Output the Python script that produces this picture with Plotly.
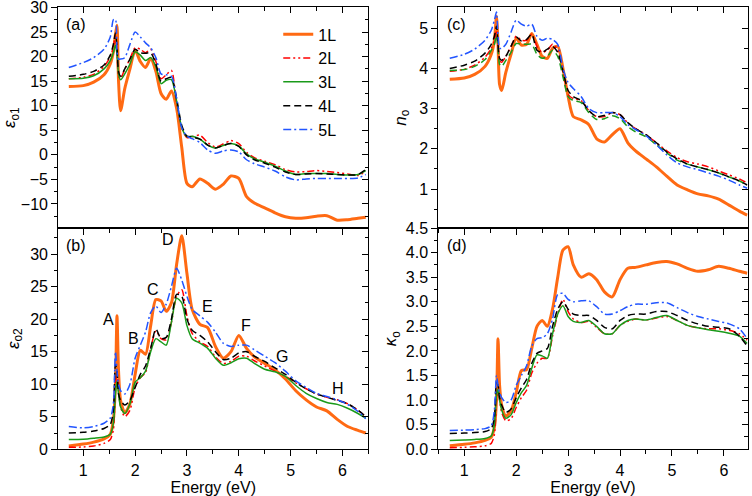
import plotly.graph_objects as go

# common energy grid (eV)
energy = [0.72, 1.0, 1.2, 1.4, 1.52, 1.58, 1.62, 1.65, 1.68, 1.72, 1.8, 1.9, 2.0, 2.1, 2.2,
          2.3, 2.4, 2.5, 2.6, 2.7, 2.8, 2.9, 3.0, 3.1, 3.25, 3.4, 3.55, 3.7, 3.85, 4.0, 4.15,
          4.3, 4.5, 4.7, 4.9, 5.1, 5.3, 5.5, 5.7, 5.9, 6.1, 6.3, 6.45]

layers = ['1L', '2L', '3L', '4L', '5L']

# (a) eps_o1
eps1_1L = [13.9, 14.1, 14.8, 16.3, 18.5, 21.0, 24.5, 26.4, 15.0, 9.0, 13.5, 17.5, 21.3, 19.0, 17.8,
           19.6, 17.0, 12.5, 11.3, 13.0, 9.5, 1.5, -5.8, -6.5, -4.9, -5.8, -7.0, -6.0, -4.3, -4.8, -8.5,
           -9.8, -10.8, -11.8, -12.6, -12.9, -12.8, -12.5, -12.4, -13.3, -13.2, -12.9, -12.7]
eps1_2L = [15.5, 15.8, 16.4, 18.0, 20.0, 22.0, 24.5, 21.0, 16.0, 15.5, 17.5, 19.5, 21.8, 21.5, 20.8,
           21.5, 19.0, 15.5, 16.3, 17.2, 10.5, 5.5, 3.5, 3.7, 4.0, 2.5, 1.6, 2.2, 2.9, 2.3, 0.5,
           -0.6, -1.3, -2.0, -3.0, -3.5, -3.4, -3.2, -3.4, -3.6, -3.9, -4.2, -3.4]
eps1_3L = [15.5, 15.6, 16.1, 17.5, 19.2, 20.8, 22.3, 20.5, 16.5, 15.3, 16.5, 18.5, 21.0, 20.3, 19.2,
           19.8, 18.0, 14.5, 15.2, 15.3, 11.0, 5.5, 3.7, 3.8, 3.2, 2.0, 1.4, 1.9, 2.3, 1.8, 0.2,
           -0.8, -1.5, -2.3, -3.3, -4.0, -3.8, -3.8, -3.8, -4.0, -4.1, -4.0, -3.2]
eps1_4L = [16.0, 16.4, 17.0, 18.3, 20.3, 22.5, 24.8, 22.0, 17.0, 16.0, 17.5, 19.5, 21.5, 20.8, 20.7,
           20.8, 18.5, 15.0, 15.5, 15.8, 11.5, 6.0, 3.8, 3.6, 3.2, 2.0, 1.4, 1.9, 2.3, 1.7, 0.0,
           -1.0, -1.7, -2.5, -3.5, -4.0, -3.9, -3.8, -3.9, -4.0, -4.1, -4.0, -3.0]
eps1_5L = [17.8, 18.8, 19.8, 21.5, 24.0, 27.5, 27.6, 21.0, 19.5, 19.5, 19.8, 22.5, 25.0, 24.0, 22.8,
           21.8, 19.8, 16.5, 16.3, 16.0, 11.5, 5.5, 3.8, 3.3, 2.5, 1.0, 0.3, 0.8, 1.0, 0.6, -1.0,
           -1.8, -2.5, -3.3, -4.5, -5.1, -4.9, -4.8, -4.8, -4.8, -4.8, -4.7, -4.0]

# (b) eps_o2
eps2_1L = [0.5, 0.8, 1.1, 1.6, 2.3, 4.5, 10.0, 20.5, 12.0, 7.5, 5.6, 7.0, 11.5, 15.2, 14.6,
           19.0, 23.0, 22.8, 21.2, 22.5, 28.4, 32.8, 27.0, 21.5, 19.2, 18.7, 15.8, 14.0, 15.0, 17.5, 15.5,
           14.2, 13.2, 12.2, 10.8, 9.0, 7.6, 6.5, 5.9, 4.6, 3.5, 2.9, 2.5]
eps2_2L = [0.3, 0.35, 0.5, 0.9, 1.5, 3.0, 10.0, 12.0, 9.0, 6.5, 5.0, 6.0, 9.5, 11.0, 11.8,
           15.5, 18.2, 17.0, 16.8, 19.5, 23.5, 24.5, 20.5, 17.8, 16.5, 15.8, 14.2, 13.2, 13.5, 14.3, 14.3,
           13.6, 12.8, 12.0, 11.2, 10.2, 9.3, 8.5, 8.0, 7.6, 7.0, 6.0, 5.0]
eps2_3L = [1.5, 1.55, 1.7, 1.9, 2.3, 4.0, 8.5, 10.5, 8.5, 6.5, 5.5, 7.0, 10.3, 11.0, 12.0,
           15.0, 17.0, 16.5, 16.0, 19.5, 23.2, 22.5, 19.0, 17.0, 16.3, 15.5, 14.0, 12.9, 13.3, 13.9, 14.0,
           13.2, 12.3, 11.9, 11.2, 9.8, 8.6, 7.8, 7.2, 6.9, 6.3, 5.5, 4.8]
eps2_4L = [2.5, 2.6, 2.8, 3.2, 3.8, 6.0, 13.0, 12.0, 8.5, 7.5, 6.8, 7.5, 9.5, 11.5, 12.8,
           15.5, 18.5, 17.0, 17.2, 20.0, 23.8, 23.5, 20.0, 18.3, 17.5, 16.5, 15.0, 13.8, 14.0, 14.8, 15.0,
           14.3, 13.5, 12.5, 11.5, 10.3, 9.3, 8.5, 8.0, 7.5, 7.0, 6.0, 5.0]
eps2_5L = [3.5, 3.3, 3.5, 4.0, 4.8, 7.0, 15.0, 12.0, 10.0, 9.0, 8.5, 10.0, 14.0, 16.0, 18.0,
           21.0, 22.0, 21.0, 22.3, 25.0, 27.8, 26.0, 23.5, 21.5, 20.5, 19.5, 18.0, 16.3, 15.8, 16.0, 16.0,
           15.3, 14.3, 13.3, 12.0, 10.5, 9.5, 8.6, 8.1, 7.6, 6.9, 5.8, 4.7]

# (c) n_o
n_1L = [3.73, 3.76, 3.85, 4.05, 4.35, 4.7, 5.3, 4.6, 3.6, 3.45, 3.9, 4.35, 4.75, 4.58, 4.6,
        4.87, 4.6, 4.3, 4.25, 4.5, 4.55, 4.0, 3.3, 2.8, 2.72, 2.6, 2.25, 2.17, 2.35, 2.5, 2.15,
        1.95, 1.75, 1.55, 1.32, 1.1, 0.98, 0.88, 0.83, 0.75, 0.6, 0.45, 0.35]
n_2L = [3.93, 3.98, 4.08, 4.28, 4.5, 4.7, 4.95, 4.6, 4.2, 4.15, 4.3, 4.55, 4.8, 4.7, 4.7,
        4.85, 4.55, 4.4, 4.45, 4.6, 4.45, 3.9, 3.35, 3.25, 3.2, 2.95, 2.8, 2.8, 2.9, 2.85, 2.65,
        2.5, 2.35, 2.15, 1.95, 1.78, 1.68, 1.62, 1.55, 1.45, 1.35, 1.25, 1.15]
n_3L = [3.95, 3.97, 4.05, 4.22, 4.45, 4.6, 4.82, 4.5, 4.1, 4.05, 4.2, 4.4, 4.62, 4.6, 4.6,
        4.6, 4.35, 4.25, 4.3, 4.45, 4.3, 3.8, 3.3, 3.2, 3.15, 2.9, 2.73, 2.75, 2.82, 2.75, 2.55,
        2.42, 2.3, 2.1, 1.9, 1.72, 1.62, 1.55, 1.48, 1.4, 1.3, 1.2, 1.1]
n_4L = [4.0, 4.08, 4.18, 4.38, 4.6, 4.8, 5.05, 4.6, 4.25, 4.2, 4.3, 4.55, 4.78, 4.68, 4.72,
        4.85, 4.45, 4.4, 4.48, 4.55, 4.4, 3.95, 3.45, 3.3, 3.2, 2.95, 2.8, 2.83, 2.9, 2.85, 2.65,
        2.5, 2.35, 2.15, 1.92, 1.75, 1.62, 1.55, 1.48, 1.4, 1.3, 1.2, 1.1]
n_5L = [4.25, 4.35, 4.48, 4.7, 4.95, 5.2, 5.4, 4.8, 4.5, 4.5, 4.6, 4.9, 5.2, 5.1, 5.05,
        5.1, 4.8, 4.7, 4.75, 4.72, 4.6, 4.0, 3.65, 3.5, 3.3, 3.0, 2.9, 2.9, 2.9, 2.8, 2.6,
        2.48, 2.33, 2.1, 1.85, 1.65, 1.55, 1.48, 1.4, 1.32, 1.22, 1.1, 1.02]

# (d) kappa_o
k_1L = [0.07, 0.1, 0.13, 0.18, 0.25, 0.45, 1.0, 2.25, 1.3, 0.9, 0.68, 0.78, 1.15, 1.6, 1.62,
        2.05, 2.5, 2.62, 2.5, 2.85, 3.5, 4.05, 4.12, 3.75, 3.5, 3.57, 3.45, 3.2, 3.1, 3.45, 3.68,
        3.7, 3.75, 3.8, 3.82, 3.77, 3.68, 3.62, 3.65, 3.72, 3.68, 3.62, 3.58]
k_2L = [0.03, 0.04, 0.05, 0.07, 0.12, 0.3, 1.0, 1.2, 1.0, 0.75, 0.58, 0.62, 0.85, 1.05, 1.2,
        1.55, 1.75, 1.85, 1.85, 2.3, 2.75, 3.05, 2.8, 2.65, 2.58, 2.6, 2.48, 2.35, 2.35, 2.52, 2.6,
        2.65, 2.63, 2.67, 2.7, 2.62, 2.52, 2.47, 2.45, 2.45, 2.42, 2.35, 2.22]
k_3L = [0.18, 0.19, 0.2, 0.22, 0.27, 0.5, 1.1, 1.22, 1.0, 0.8, 0.63, 0.7, 0.95, 1.15, 1.3,
        1.65, 1.92, 1.9, 1.85, 2.35, 2.75, 2.92, 2.7, 2.6, 2.58, 2.62, 2.5, 2.35, 2.35, 2.52, 2.62,
        2.65, 2.63, 2.68, 2.72, 2.62, 2.52, 2.47, 2.43, 2.4, 2.36, 2.3, 2.15]
k_4L = [0.32, 0.33, 0.34, 0.36, 0.42, 0.65, 1.35, 1.3, 1.05, 0.9, 0.75, 0.82, 1.05, 1.25, 1.42,
        1.75, 1.95, 2.0, 2.05, 2.5, 2.85, 3.0, 2.85, 2.75, 2.72, 2.72, 2.62, 2.48, 2.45, 2.62, 2.72,
        2.75, 2.75, 2.8, 2.8, 2.72, 2.62, 2.55, 2.5, 2.48, 2.45, 2.3, 2.1]
k_5L = [0.38, 0.39, 0.4, 0.42, 0.48, 0.8, 1.5, 1.3, 1.15, 1.05, 0.95, 1.0, 1.3, 1.5, 1.7,
        2.1, 2.25, 2.27, 2.35, 2.65, 3.15, 3.17, 3.05, 3.0, 3.02, 3.02, 2.9, 2.75, 2.75, 2.82, 2.9,
        2.95, 2.95, 2.98, 2.98, 2.88, 2.78, 2.7, 2.65, 2.6, 2.55, 2.45, 2.25]

peak_labels = ['A', 'B', 'C', 'D', 'E', 'F', 'G', 'H']
peak_x = [1.48, 1.96, 2.35, 2.64, 3.39, 4.14, 4.84, 5.92]
peak_y = [20.0, 17.0, 24.5, 32.2, 21.9, 19.0, 14.2, 9.4]

colors = ['#FF6A13', '#FF0000', '#1A9A1A', '#000000', '#2255FF']
widths = [3, 1.5, 1.5, 1.5, 1.5]
dashes = ['solid', '7px,3px,2px,3px,2px,3px', 'solid', '7px,4px', '8px,3px,2px,3px']

FONT = 'Liberation Sans, Arial, sans-serif'

panels = [
    ('x', 'y', [eps1_1L, eps1_2L, eps1_3L, eps1_4L, eps1_5L]),
    ('x2', 'y2', [eps2_1L, eps2_2L, eps2_3L, eps2_4L, eps2_5L]),
    ('x3', 'y3', [n_1L, n_2L, n_3L, n_4L, n_5L]),
    ('x4', 'y4', [k_1L, k_2L, k_3L, k_4L, k_5L]),
]

fig = go.Figure()
for p, (xa, ya, series) in enumerate(panels):
    for i, name in enumerate(layers):
        dash = dashes[i]
        if p == 2 and i == 2:
            dash = '7px,4px'  # green is dashed in (c)
        fig.add_trace(go.Scatter(
            x=energy, y=series[i], name=name, mode='lines',
            xaxis=xa, yaxis=ya, showlegend=(p == 0),
            line=dict(color=colors[i], width=widths[i], dash=dash, shape='spline', smoothing=0.7),
        ))

# dummy traces so the mirror (inside-tick) axes are drawn
for xa, ya in [('x5', 'y'), ('x6', 'y2'), ('x7', 'y3'), ('x8', 'y4'),
               ('x', 'y5'), ('x2', 'y6'), ('x3', 'y7'), ('x4', 'y8')]:
    fig.add_trace(go.Scatter(x=[None], y=[None], xaxis=xa, yaxis=ya, showlegend=False, hoverinfo='skip'))

XL = [0.0775, 0.4898]
XR = [0.5829, 0.9943]
Y_TOP = [0.5403, 0.9853]
Y_BOT = [0.0942, 0.5403]
xr_left = [0.517, 6.5]
xr_right = [0.5, 6.46]
yr_a = [-14.9, 30.05]


def axis_style(**kw):
    d = dict(showline=True, linecolor='black', linewidth=1.2, showgrid=False, zeroline=False,
             ticks='outside', ticklen=6, tickwidth=1.2, tickcolor='black', automargin=False,
             ticklabeloverflow='allow',
             tickfont=dict(family=FONT, size=16, color='black'))
    d.update(kw)
    return d


def mirror_style(**kw):
    d = dict(showline=True, linecolor='black', linewidth=1.2, showgrid=False, zeroline=False,
             ticks='inside', ticklen=6, tickwidth=1.2, tickcolor='black', showticklabels=False,
             automargin=False)
    d.update(kw)
    return d


def minor(step, direction='outside'):
    return dict(dtick=step, ticks=direction, ticklen=3.5, tickwidth=1.2, tickcolor='black')


energy_title = dict(text='Energy (eV)', font=dict(family=FONT, size=16, color='black'), standoff=2)
ytitle_font = dict(family=FONT, size=17, color='black')

fig.update_layout(
    width=752, height=496,
    margin=dict(l=0, r=0, t=0, b=0, autoexpand=False),
    paper_bgcolor='white', plot_bgcolor='white',
    font=dict(family=FONT, color='black'),
    showlegend=True,
    legend=dict(x=0.37, y=0.965, xanchor='left', yanchor='top', bgcolor='rgba(0,0,0,0)',
                font=dict(family=FONT, size=16, color='black'), tracegroupgap=0, itemwidth=30),
    # (a)
    xaxis=axis_style(domain=XL, anchor='y', range=xr_left, dtick=1, showticklabels=False, minor=minor(0.5)),
    yaxis=axis_style(domain=Y_TOP, anchor='x', range=yr_a, tickvals=[-10, -5, 0, 5, 10, 15, 20, 25, 30],
                     minor=minor(2.5),
                     title=dict(text='<i>ε</i><sub>o1</sub>', font=ytitle_font, standoff=6)),
    # (b)
    xaxis2=axis_style(domain=XL, anchor='y2', range=xr_left, dtick=1, minor=minor(0.5), title=energy_title),
    yaxis2=axis_style(domain=Y_BOT, anchor='x2', range=[0, 34], dtick=5, minor=minor(2.5),
                      title=dict(text='<i>ε</i><sub>o2</sub>', font=ytitle_font, standoff=6)),
    # (c)
    xaxis3=axis_style(domain=XR, anchor='y3', range=xr_right, dtick=1, showticklabels=False, minor=minor(0.5)),
    yaxis3=axis_style(domain=Y_TOP, anchor='x3', range=[0.03, 5.52], tickvals=[1, 2, 3, 4, 5],
                      minor=dict(tickvals=[0.5, 1.5, 2.5, 3.5, 4.5], ticks='outside', ticklen=3.5,
                                 tickwidth=1.2, tickcolor='black'),
                      title=dict(text='<i>n</i><sub>o</sub>', font=ytitle_font, standoff=8)),
    # (d)
    xaxis4=axis_style(domain=XR, anchor='y4', range=xr_right, dtick=1, minor=minor(0.5), title=energy_title),
    yaxis4=axis_style(domain=Y_BOT, anchor='x4', range=[0, 4.5], dtick=0.5, tickformat='.1f',
                      minor=minor(0.25),
                      title=dict(text='<i>κ</i><sub>o</sub>', font=ytitle_font, standoff=4)),
    # mirror axes (top / right) with inward ticks
    xaxis5=mirror_style(overlaying='x', anchor='y', side='top', range=xr_left, dtick=1, minor=minor(0.5, 'inside')),
    xaxis6=mirror_style(overlaying='x2', anchor='y2', side='top', range=xr_left, dtick=1, minor=minor(0.5, 'inside')),
    xaxis7=mirror_style(overlaying='x3', anchor='y3', side='top', range=xr_right, dtick=1, minor=minor(0.5, 'inside')),
    xaxis8=mirror_style(overlaying='x4', anchor='y4', side='top', range=xr_right, dtick=1, minor=minor(0.5, 'inside')),
    yaxis5=mirror_style(overlaying='y', anchor='x', side='right', range=yr_a, dtick=5,
                        minor=minor(2.5, 'inside')),
    yaxis6=mirror_style(overlaying='y2', anchor='x2', side='right', range=[0, 34], dtick=5,
                        minor=minor(2.5, 'inside')),
    yaxis7=mirror_style(overlaying='y3', anchor='x3', side='right', range=[0.03, 5.52], dtick=1,
                        minor=minor(0.5, 'inside')),
    yaxis8=mirror_style(overlaying='y4', anchor='x4', side='right', range=[0, 4.5], dtick=0.5,
                        minor=minor(0.25, 'inside')),
)

# panel tags
for tag, xr, yr in [('(a)', 'x', 'y'), ('(b)', 'x2', 'y2'), ('(c)', 'x3', 'y3'), ('(d)', 'x4', 'y4')]:
    fig.add_annotation(text=tag, xref=xr + ' domain', yref=yr + ' domain', x=0.02, y=0.97,
                       xanchor='left', yanchor='top', showarrow=False,
                       font=dict(family=FONT, size=16, color='black'))

# transition labels in (b)
for lab, px, py in zip(peak_labels, peak_x, peak_y):
    fig.add_annotation(text=lab, x=px, y=py, xref='x2', yref='y2', showarrow=False,
                       font=dict(family=FONT, size=16, color='black'))

# the page body has a default 8px margin; drop it so the figure sits at the window origin
fig.write_html("out.html", config={'displayModeBar': False},
               post_script="document.body.style.margin='0';")
